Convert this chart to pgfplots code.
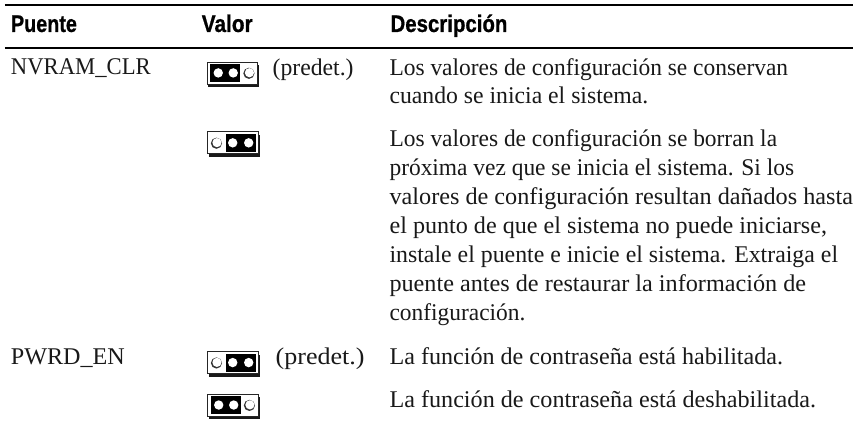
\documentclass[border=0pt]{standalone}
\usepackage{pgfplots}
\pgfplotsset{compat=1.18}
\usepackage{fontspec}
\setmainfont{Liberation Serif}
\newfontfamily\headfont[FakeBold=0.8]{Liberation Sans Bold}
\tikzset{t/.style={inner sep=0pt,outer sep=0pt,anchor=base west,text=black!90}}
\newcommand{\bodyfont}{\fontsize{24bp}{28bp}\selectfont}
\newcommand{\hfontsz}{\headfont\fontsize{24bp}{28bp}\selectfont}
% x, baseline y, left edge to right edge width, text
\newcommand{\tl}[4]{\node[t] at (axis cs:#1,#2) {\resizebox{#3bp}{\height}{\bodyfont #4}};}
\newcommand{\hl}[4]{\node[t,text=black] at (axis cs:#1,#2) {\resizebox{#3bp}{\height}{\hfontsz #4}};}
\newcommand{\jumper}[3]{%
 \fill[black!90] (axis cs:#1+1,#2+3) rectangle (axis cs:#1+52,#2+25);
 \fill[white] (axis cs:#1,#2) rectangle (axis cs:#1+50.3,#2+22);
 \draw[black!85,line width=0.7bp] (axis cs:#1,#2) rectangle (axis cs:#1+50.3,#2+22);
 \ifnum#3=0
  \fill[black] (axis cs:#1+3,#2+2) rectangle (axis cs:#1+33,#2+20);
  \fill[white] (axis cs:#1+11,#2+11) circle[radius=4.7bp];
  \fill[white] (axis cs:#1+26,#2+11) circle[radius=4.7bp];
  \fill[black!80] (axis cs:#1+41.7,#2+11.4) circle[radius=5.6bp];
  \fill[white] (axis cs:#1+42.2,#2+10.8) circle[radius=4.6bp];
 \else
  \fill[black] (axis cs:#1+18,#2+2) rectangle (axis cs:#1+48,#2+20);
  \fill[white] (axis cs:#1+25,#2+11) circle[radius=4.7bp];
  \fill[white] (axis cs:#1+41,#2+11) circle[radius=4.7bp];
  \fill[black!80] (axis cs:#1+8.7,#2+11.4) circle[radius=5.6bp];
  \fill[white] (axis cs:#1+9.2,#2+10.8) circle[radius=4.6bp];
 \fi
}
\begin{document}
\begin{tikzpicture}[x=1bp,y=1bp]
\begin{axis}[
  scale only axis,width=854bp,height=423bp,
  xmin=0,xmax=854,ymin=0,ymax=423,y dir=reverse,
  axis lines=none,clip=false]
\path[fill=white] (axis cs:0,0) rectangle (axis cs:854,423);
\addplot[black,line width=2bp] coordinates {(5,5) (854,5)};
\addplot[black,line width=2bp] coordinates {(5,48) (854,48)};
\hl{11}{32}{66}{Puente}
\hl{202}{32}{51}{Valor}
\hl{391}{32}{117}{Descripción}
\tl{11}{75}{140}{NVRAM\_CLR}
\tl{11}{365}{114}{PWRD\_EN}
\jumper{207.5}{62}{0}
\jumper{208}{132}{1}
\jumper{208}{352}{1}
\jumper{208}{394.5}{0}
\tl{273}{76}{81}{(predet.)}
\tl{276}{365}{89}{(predet.)}
\tl{390}{76}{399}{Los valores de configuración se conservan}
\tl{390}{104}{259}{cuando se inicia el sistema.}
\tl{390}{147}{388}{Los valores de configuración se borran la}
\tl{390}{176}{405}{próxima vez que se inicia el sistema. Si los}
\tl{390}{205}{464}{valores de configuración resultan dañados hasta}
\tl{390}{234}{438}{el punto de que el sistema no puede iniciarse,}
\tl{390}{263}{449}{instale el puente e inicie el sistema. Extraiga el}
\tl{390}{292}{417}{puente antes de restaurar la información de}
\tl{390}{321}{136}{configuración.}
\tl{390}{365}{394}{La función de contraseña está habilitada.}
\tl{390}{408}{427}{La función de contraseña está deshabilitada.}
\end{axis}
\end{tikzpicture}
\end{document}
